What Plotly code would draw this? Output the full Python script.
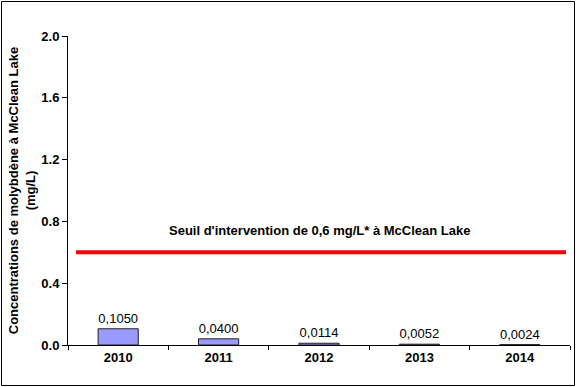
import plotly.graph_objects as go

years = ["2010", "2011", "2012", "2013", "2014"]
values = [0.1050, 0.0400, 0.0114, 0.0052, 0.0024]
value_labels = ["0,1050", "0,0400", "0,0114", "0,0052", "0,0024"]
threshold = 0.6
threshold_label = "Seuil d'intervention de 0,6 mg/L* à McClean Lake"
y_title = "Concentrations de molybdène à McClean Lake<br>(mg/L)"
y_ticks = [0.0, 0.4, 0.8, 1.2, 1.6, 2.0]

FONT = "Liberation Sans, Arial, sans-serif"

fig = go.Figure()
fig.add_trace(go.Bar(
    x=years, y=values, text=value_labels, textposition="outside",
    textfont=dict(family=FONT, size=13, color="black"),
    marker=dict(color="#9999FF", line=dict(color="#202020", width=1)),
    width=0.4, cliponaxis=False,
))

fig.add_shape(type="line", xref="x", yref="y", x0=-0.42, x1=4.46,
              y0=threshold, y1=threshold, line=dict(color="#FF0000", width=4))
fig.add_annotation(x=2, y=threshold, xref="x", yref="y", text="<b>" + threshold_label + "</b>",
                   showarrow=False, yshift=22, font=dict(family=FONT, size=13, color="black"))

fig.add_shape(type="rect", xref="paper", yref="paper",
              x0=-(68-1.5)/502, x1=(576-68-1.5)/502, y0=-(42-1.5)/309, y1=(309+36-1.5)/309,
              line=dict(color="black", width=1))

fig.update_layout(
    width=576, height=387,
    margin=dict(l=68, r=6, t=36, b=42, autoexpand=False),
    paper_bgcolor="white", plot_bgcolor="white",
    showlegend=False,
    font=dict(family=FONT, size=12, color="black"),
    xaxis=dict(type="category", range=[-0.5, 4.5], showline=True, linecolor="black", linewidth=1,
               ticks="outside", ticklen=4, tickcolor="black", tickson="boundaries",
               automargin=False,
               tickfont=dict(family=FONT, size=13, color="black", weight="bold"),
               showgrid=False, zeroline=False),
    yaxis=dict(range=[0, 2.0], tickvals=y_ticks, tickformat=".1f", showline=True,
               linecolor="black", linewidth=1, ticks="outside", ticklen=5, tickcolor="black",
               automargin=False,
               tickfont=dict(family=FONT, size=13, color="black", weight="bold"),
               showgrid=False, zeroline=False,
               title=dict(text=y_title, standoff=2,
                          font=dict(family=FONT, size=13, color="black", weight="bold"))),
)

fig.write_html("out.html", config={"displayModeBar": False},
               post_script="document.body.style.margin='0';document.body.style.overflow='hidden';")
